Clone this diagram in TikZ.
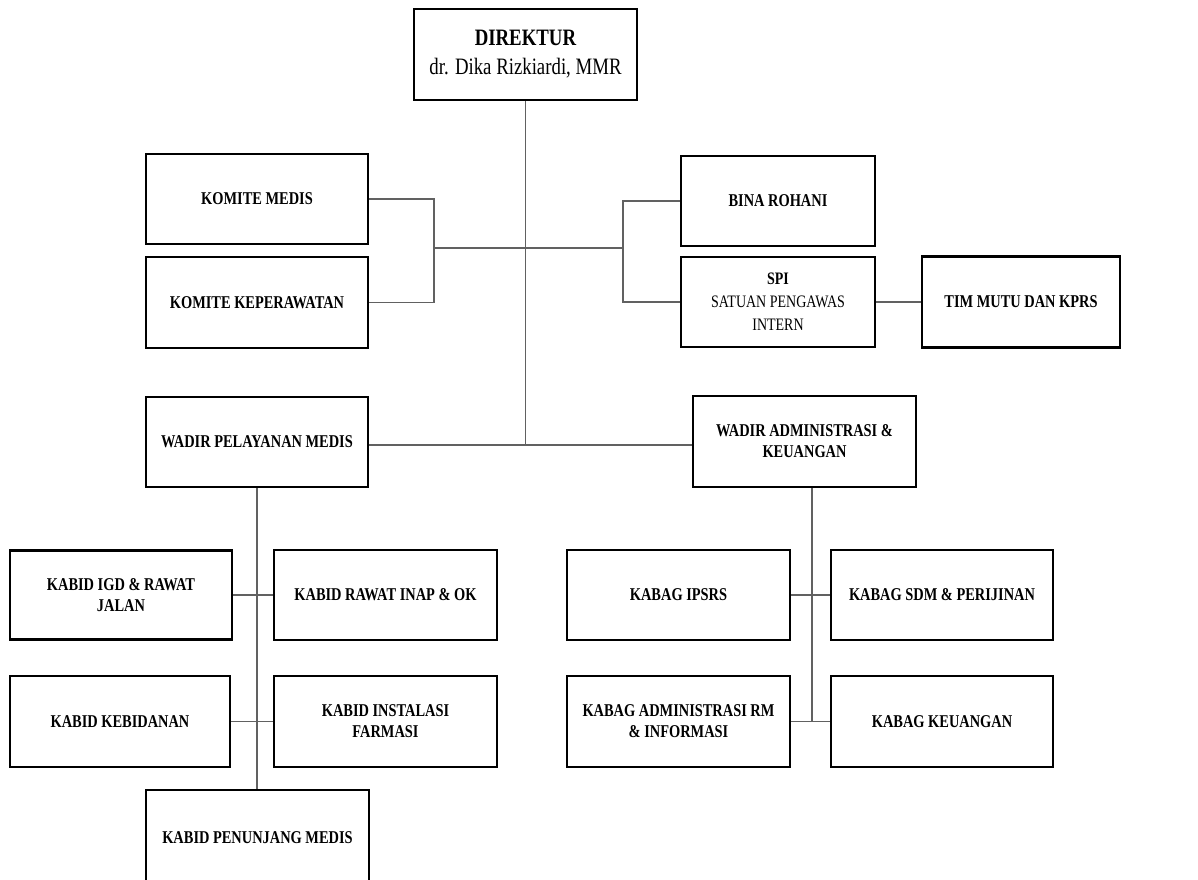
\documentclass[tikz,border=0pt]{standalone}
\usepackage{fontspec}
\setmainfont{Liberation Serif}[FakeStretch=0.8]
\begin{document}
\begin{tikzpicture}[x=1pt,y=-1pt,
  box/.style={draw=black, line width=2.4pt, fill=white, inner sep=2pt, align=center,
    font=\fontsize{18}{21}\selectfont\bfseries},
  conn/.style={draw=black!62, line width=1.5pt}]
\useasboundingbox (0,0) rectangle (1198,879);
\clip (0,0) rectangle (1198,879);
% top
\node[box, minimum width=223pt, minimum height=91pt, font=\fontsize{23.5}{29}\selectfont] (dir) at (525.5,54.5)
  {\textbf{DIREKTUR}\\dr. Dika Rizkiardi, MMR};
\node[box, minimum width=222pt, minimum height=90pt] (km) at (257,199) {KOMITE MEDIS};
\node[box, minimum width=222pt, minimum height=91pt] (kk) at (257,302.5) {KOMITE KEPERAWATAN};
\node[box, minimum width=194pt, minimum height=90pt] (br) at (778,201) {BINA ROHANI};
\node[box, minimum width=194pt, minimum height=90pt, font=\fontsize{17.5}{23}\selectfont] (spi) at (778,302)
  {\textbf{SPI}\\SATUAN PENGAWAS\\INTERN};
\node[box, minimum width=198pt, minimum height=91pt] (tim) at (1021,302) {TIM MUTU DAN KPRS};
% wadir
\node[box, minimum width=222pt, minimum height=90pt] (wpm) at (257,442) {WADIR PELAYANAN MEDIS};
\node[box, minimum width=223pt, minimum height=91pt] (wak) at (804.5,441.5) {WADIR ADMINISTRASI \&\\KEUANGAN};
% kabid
\node[box, minimum width=222pt, minimum height=89pt] (igd) at (121,595) {KABID IGD \& RAWAT\\JALAN};
\node[box, minimum width=223pt, minimum height=90pt] (rio) at (385.5,595) {KABID RAWAT INAP \& OK};
\node[box, minimum width=220pt, minimum height=91pt] (keb) at (120,721.5) {KABID KEBIDANAN};
\node[box, minimum width=223pt, minimum height=91pt] (inf) at (385.5,721.5) {KABID INSTALASI\\FARMASI};
\node[box, minimum width=223pt, minimum height=96pt] (pen) at (257.5,838) {KABID PENUNJANG MEDIS};
% kabag
\node[box, minimum width=223pt, minimum height=90pt] (ips) at (678.5,595) {KABAG IPSRS};
\node[box, minimum width=222pt, minimum height=90pt] (sdm) at (942,595) {KABAG SDM \& PERIJINAN};
\node[box, minimum width=223pt, minimum height=91pt] (arm) at (678.5,721.5) {KABAG ADMINISTRASI RM\\\& INFORMASI};
\node[box, minimum width=222pt, minimum height=91pt] (keu) at (942,721.5) {KABAG KEUANGAN};
% helper coordinates
\coordinate (t0) at (525.5,445);
\coordinate (lbx) at (434,248);
\coordinate (rbx) at (623,248);
\coordinate (rvx) at (812,0);
% connectors
\draw[conn] (dir.south) -- (t0);
\draw[conn] (km.east) -- (km.east -| lbx) -- (kk.east -| lbx) -- (kk.east);
\draw[conn] (lbx) -- (lbx -| dir.south);
\draw[conn] (br.west) -- (br.west -| rbx) -- (spi.west -| rbx) -- (spi.west);
\draw[conn] (rbx) -- (rbx -| dir.south);
\draw[conn] (spi.east) -- (spi.east -| tim.west);
\draw[conn] (wpm.east |- t0) -- (wak.west |- t0);
\draw[conn] (wpm.south) -- (wpm.south |- pen.north);
\draw[conn] (igd.east) -- (rio.west);
\draw[conn] (keb.east) -- (inf.west);
\draw[conn] (wak.south -| rvx) -- (arm.east -| rvx);
\draw[conn] (ips.east) -- (sdm.west);
\draw[conn] (arm.east) -- (keu.west);
\end{tikzpicture}
\end{document}
